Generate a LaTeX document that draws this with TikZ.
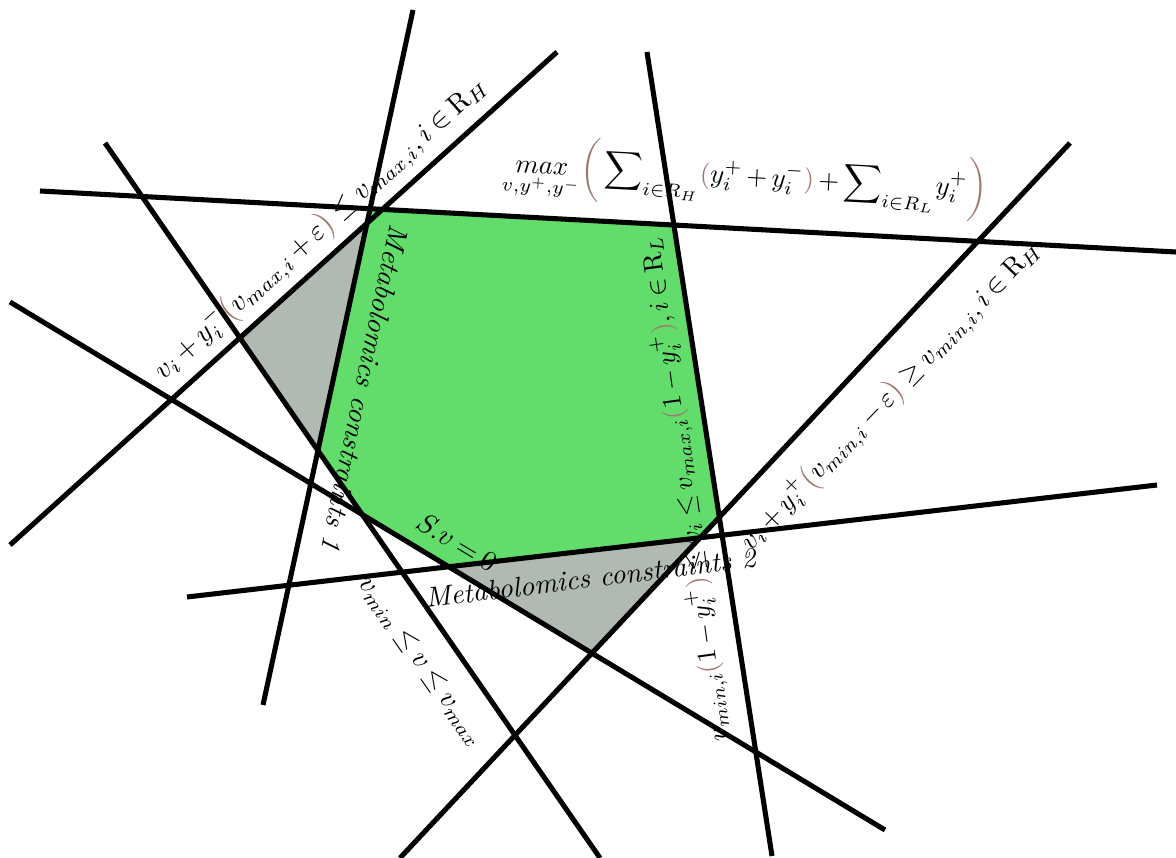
\documentclass[tikz,border=0pt]{standalone}
\usepackage{amsmath}
\definecolor{feasgreen}{RGB}{98,220,106}
\definecolor{cutgray}{RGB}{176,185,178}
\definecolor{parbrown}{RGB}{160,120,112}
\newcommand{\bp}[1]{{\color{parbrown}#1}}
\newcommand{\tightmath}{\medmuskip=3mu\relax\thickmuskip=4mu\relax}

\begin{document}
\begin{tikzpicture}[
    x=0.0125cm, y=-0.0125cm,
    cline/.style={line width=1.8pt},
    lbl/.style={inner sep=0pt, font=\normalsize\tightmath}
]
    \useasboundingbox (0,0) rectangle (1176,858);

    % end points of the constraint lines
    \coordinate (a1) at (40,191);   \coordinate (b1) at (1176,252);
    \coordinate (a2) at (413,10);   \coordinate (b2) at (263,705);
    \coordinate (a3) at (557,52);   \coordinate (b3) at (10,545);
    \coordinate (a4) at (105,143);  \coordinate (b4) at (600,858);
    \coordinate (a5) at (10,302);   \coordinate (b5) at (885,830);
    \coordinate (a6) at (187,597);  \coordinate (b6) at (1157,485);
    \coordinate (a7) at (647,52);   \coordinate (b7) at (772,856);
    \coordinate (a8) at (1070,143); \coordinate (b8) at (400,858);

    % corners of the regions
    \coordinate (g1) at (intersection of a1--b1 and a2--b2);
    \coordinate (g2) at (intersection of a1--b1 and a7--b7);
    \coordinate (g3) at (intersection of a7--b7 and a8--b8);
    \coordinate (g4) at (intersection of a8--b8 and a6--b6);
    \coordinate (g5) at (intersection of a6--b6 and a5--b5);
    \coordinate (g6) at (intersection of a5--b5 and a4--b4);
    \coordinate (g7) at (intersection of a4--b4 and a2--b2);
    \coordinate (h1) at (intersection of a3--b3 and a2--b2);
    \coordinate (h2) at (intersection of a3--b3 and a4--b4);
    \coordinate (k1) at (intersection of a5--b5 and a8--b8);

    % feasible region
    \fill[feasgreen] (g1) -- (g2) -- (g3) -- (g4) -- (g5) -- (g6) -- (g7) -- cycle;
    % cut-off regions
    \fill[cutgray] (h1) -- (h2) -- (g7) -- cycle;
    \fill[cutgray] (g5) -- (g4) -- (k1) -- cycle;

    % constraint lines
    \foreach \n in {1,...,8}
        \draw[cline] (a\n) -- (b\n);

    % objective
    \node[lbl, rotate=-3, scale=0.95] (objective) at (745,178)
        {$\displaystyle\mathop{max}\limits_{v,y^+,y^-}\!\bp{\biggl(}\sum\nolimits_{i\in R_H}\!\bp{(}y_i^+ + y_i^-\bp{)} + \sum\nolimits_{i\in R_L}\! y_i^+\bp{\biggr)}$};

    % constraint labels
    \node[lbl, rotate=42] (upper) at (321,229)
        {$v_i + y_i^-\bp{\bigl(}v_{max,i} + \varepsilon\bp{\bigr)} \le v_{max,i}, i \in \mathrm{R}_H$};
    \node[lbl, rotate=46, scale=0.97] (lower) at (891,396)
        {$v_i + y_i^+\bp{\bigl(}v_{min,i} - \varepsilon\bp{\bigr)} \ge v_{min,i}, i \in \mathrm{R}_H$};
    \node[lbl, rotate=97.8, scale=0.96] (bounds) at (685,489)
        {$v_{min,i}\bp{(}1 - y_i^+\bp{)} \le v_i \le v_{max,i}\bp{(}1 - y_i^+\bp{)}, i \in \mathrm{R}_L$};
    \node[lbl, rotate=-102] (metab1) at (365,388) {\textit{Metabolomics constraints 1}};
    \node[lbl, rotate=7] (metab2) at (591,578) {\textit{Metabolomics constraints 2}};
    \node[lbl, rotate=-31] (steady) at (457,542) {$S.v = 0$};
    \node[lbl, rotate=-55] (flux) at (421,662) {$v_{min} \le v \le v_{max}$};
\end{tikzpicture}
\end{document}
